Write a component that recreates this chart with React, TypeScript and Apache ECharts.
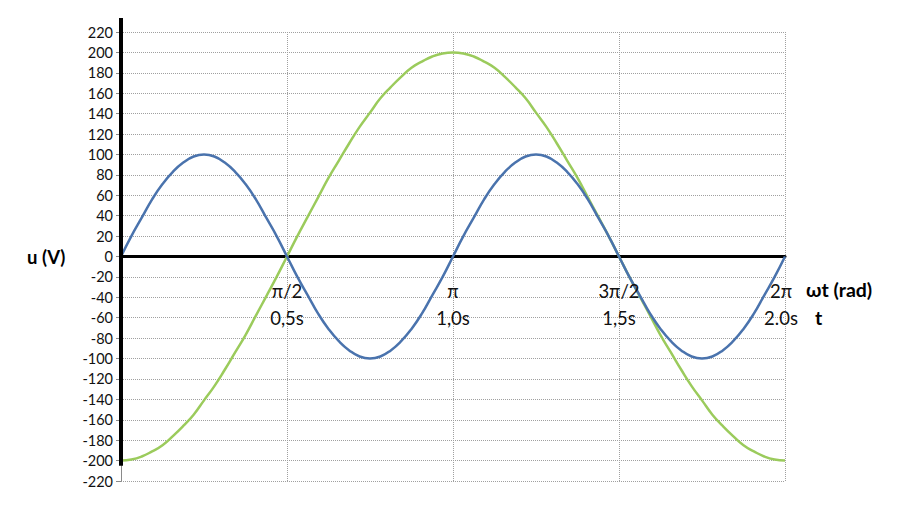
import React, { useEffect, useRef } from "react";
import * as echarts from "echarts";

// time in seconds (ωt = π·t rad)
const tValues = [
  0, 0.03125, 0.0625, 0.09375, 0.125, 0.15625, 0.1875, 0.21875, 0.25,
  0.28125, 0.3125, 0.34375, 0.375, 0.40625, 0.4375, 0.46875, 0.5,
  0.53125, 0.5625, 0.59375, 0.625, 0.65625, 0.6875, 0.71875, 0.75,
  0.78125, 0.8125, 0.84375, 0.875, 0.90625, 0.9375, 0.96875, 1.0,
  1.03125, 1.0625, 1.09375, 1.125, 1.15625, 1.1875, 1.21875, 1.25,
  1.28125, 1.3125, 1.34375, 1.375, 1.40625, 1.4375, 1.46875, 1.5,
  1.53125, 1.5625, 1.59375, 1.625, 1.65625, 1.6875, 1.71875, 1.75,
  1.78125, 1.8125, 1.84375, 1.875, 1.90625, 1.9375, 1.96875, 2.0,
];
const blueValues = [
  0, 20, 38, 56, 71, 83, 92, 98, 100,
  98, 92, 83, 71, 56, 38, 20, 0,
  -20, -38, -56, -71, -83, -92, -98, -100,
  -98, -92, -83, -71, -56, -38, -20, 0,
  20, 38, 56, 71, 83, 92, 98, 100,
  98, 92, 83, 71, 56, 38, 20, 0,
  -20, -38, -56, -71, -83, -92, -98, -100,
  -98, -92, -83, -71, -56, -38, -20, 0,
];
const greenValues = [
  -200, -199, -196, -191, -185, -176, -166, -155, -141,
  -127, -111, -94, -77, -58, -39, -20, 0,
  20, 39, 58, 77, 94, 111, 127, 141,
  155, 166, 176, 185, 191, 196, 199, 200,
  199, 196, 191, 185, 176, 166, 155, 141,
  127, 111, 94, 77, 58, 39, 20, 0,
  -20, -39, -58, -77, -94, -111, -127, -141,
  -155, -166, -176, -185, -191, -196, -199, -200,
];
const tickValues = [0, 0.5, 1.0, 1.5, 2.0];
const piLabels = ["", "π/2", "π", "3π/2", "2π"];
const timeLabels = ["", "0,5s", "1,0s", "1,5s", "2.0s"];

const FONT = "Lato, 'Open Sans', sans-serif";

export default function App() {
  const ref = useRef<HTMLDivElement>(null);
  useEffect(() => {
    if (!ref.current) return;
    const chart = echarts.init(ref.current, undefined, { renderer: "svg" });
    chart.setOption({
      animation: false,
      backgroundColor: "#ffffff",
      grid: {
        left: 121,
        right: 118,
        top: 32,
        bottom: 26,
        containLabel: false,
        outerBoundsMode: "none",
      },
      xAxis: {
        type: "value",
        min: 0,
        max: 2,
        interval: 0.5,
        axisLine: { show: true, onZero: true, lineStyle: { color: "#000", width: 3 } },
        axisTick: { show: false },
        axisLabel: { show: false },
        splitLine: { show: true, lineStyle: { color: "#a0a0a0", type: "dotted", width: 1 } },
      },
      yAxis: {
        type: "value",
        min: -220,
        max: 220,
        interval: 20,
        axisLine: { show: true, onZero: false, lineStyle: { color: "#8a8a8a", width: 1 } },
        axisTick: { show: true, length: 5, lineStyle: { color: "#8a8a8a" } },
        axisLabel: { color: "#111", fontFamily: FONT, fontSize: 14.5, margin: 8 },
        splitLine: { show: true, lineStyle: { color: "#a0a0a0", type: "dotted", width: 1 } },
      },
      series: [
        {
          name: "green",
          type: "line",
          data: tValues.map((t, i) => [t, greenValues[i]]),
          smooth: true,
          showSymbol: false,
          lineStyle: { color: "#9BCB5C", width: 2.5 },
          z: 3,
        },
        {
          name: "blue",
          type: "line",
          data: tValues.map((t, i) => [t, blueValues[i]]),
          smooth: true,
          showSymbol: false,
          lineStyle: { color: "#4A73AD", width: 2.5 },
          z: 4,
        },
      ],
    });
    const bottom = chart.convertToPixel({ gridIndex: 0 }, [0, -205]) as number[];
    const top = chart.convertToPixel({ gridIndex: 0 }, [0, 220]) as number[];
    const zero = chart.convertToPixel({ gridIndex: 0 }, [2, 0]) as number[];
    const graphics: any[] = [
      {
        type: "line",
        shape: { x1: bottom[0], y1: top[1] - 14, x2: bottom[0], y2: bottom[1] },
        style: { stroke: "#000", lineWidth: 4 },
        z: 100,
      },
      {
        type: "text",
        x: 27,
        y: zero[1],
        style: { text: "u (V)", font: `bold 18.5px ${FONT}`, fill: "#000", verticalAlign: "middle" },
        z: 100,
      },
      {
        type: "text",
        x: zero[0] + 21,
        y: zero[1] + 33,
        style: { text: "ωt (rad)", font: `bold 19.5px ${FONT}`, fill: "#000", verticalAlign: "middle" },
        z: 100,
      },
      {
        type: "text",
        x: zero[0] + 30,
        y: zero[1] + 61,
        style: { text: "t", font: `bold 19.5px ${FONT}`, fill: "#000", verticalAlign: "middle" },
        z: 100,
      },
    ];
    tickValues.forEach((tv, i) => {
      if (!piLabels[i]) return;
      const p = chart.convertToPixel({ gridIndex: 0 }, [tv, 0]) as number[];
      const isLast = i === tickValues.length - 1;
      const cx = isLast ? p[0] - 4 : p[0];
      graphics.push({
        type: "text",
        x: cx,
        y: p[1] + 34,
        style: {
          text: piLabels[i],
          font: `18.5px ${FONT}`,
          fill: "#111",
          align: "center",
          verticalAlign: "middle",
        },
        z: 100,
      });
      graphics.push({
        type: "text",
        x: cx,
        y: p[1] + 61,
        style: {
          text: timeLabels[i],
          font: `18.5px ${FONT}`,
          fill: "#111",
          align: "center",
          verticalAlign: "middle",
        },
        z: 100,
      });
    });
    chart.setOption({ graphic: graphics });
    return () => chart.dispose();
  }, []);
  return (
    <div
      ref={ref}
      style={{ position: "fixed", left: 0, top: 0, width: 903, height: 507, background: "#fff" }}
    />
  );
}
